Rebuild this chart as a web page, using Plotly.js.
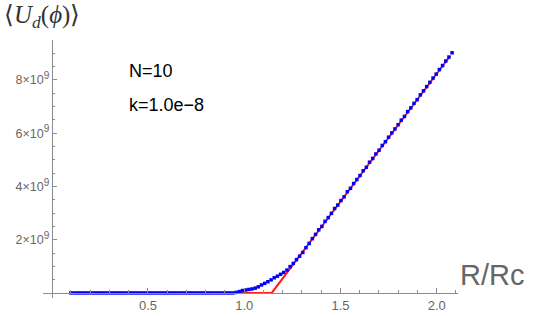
<!DOCTYPE html>
<html>
<head>
<meta charset="utf-8">
<script src="https://cdn.plot.ly/plotly-3.0.1.min.js"></script>
<style>
  html, body { margin: 0; padding: 0; background: #fff; }
  #plot { width: 540px; height: 316px; }
</style>
</head>
<body>
<div id="plot"></div>
<script>
// simulated <U_d(phi)> in units of 1e9, against R/Rc
const simR = [0.1000, 0.1165, 0.1330, 0.1495, 0.1660, 0.1825, 0.1990, 0.2155, 0.2320, 0.2485,
    0.2650, 0.2815, 0.2980, 0.3145, 0.3310, 0.3475, 0.3640, 0.3805, 0.3970, 0.4135,
    0.4300, 0.4465, 0.4630, 0.4795, 0.4960, 0.5125, 0.5290, 0.5455, 0.5620, 0.5785,
    0.5950, 0.6115, 0.6280, 0.6445, 0.6610, 0.6775, 0.6940, 0.7105, 0.7270, 0.7435,
    0.7600, 0.7765, 0.7930, 0.8095, 0.8260, 0.8425, 0.8590, 0.8755, 0.8920, 0.9085,
    0.9250, 0.9415, 0.9580, 0.9745, 0.9910, 1.0075, 1.0240, 1.0405, 1.0570, 1.0735,
    1.0900, 1.1065, 1.1230, 1.1395, 1.1560, 1.1725, 1.1890, 1.2055, 1.2220, 1.2385,
    1.2550, 1.2715, 1.2880, 1.3045, 1.3210, 1.3375, 1.3540, 1.3705, 1.3870, 1.4035,
    1.4200, 1.4365, 1.4530, 1.4695, 1.4860, 1.5025, 1.5190, 1.5355, 1.5520, 1.5685,
    1.5850, 1.6015, 1.6180, 1.6345, 1.6510, 1.6675, 1.6840, 1.7005, 1.7170, 1.7335,
    1.7500, 1.7665, 1.7830, 1.7995, 1.8160, 1.8325, 1.8490, 1.8655, 1.8820, 1.8985,
    1.9150, 1.9315, 1.9480, 1.9645, 1.9810, 1.9975, 2.0140, 2.0305, 2.0470, 2.0635,
    2.0800];
const simU = [0, 0, 0, 0, 0, 0, 0, 0, 0, 0,
    0, 0, 0, 0, 0, 0, 0, 0, 0, 0,
    0, 0, 0, 0, 0, 0, 0, 0, 0, 0,
    0, 0, 0, 0, 0, 0, 0, 0, 0, 0,
    0, 0, 0, 0, 0, 0, 0, 0, 0, 0,
    0, 0, 0.02, 0.05, 0.09, 0.11, 0.13, 0.15, 0.18, 0.23,
    0.30, 0.36, 0.42, 0.49, 0.57, 0.63, 0.70, 0.77, 0.86, 0.99,
    1.11, 1.25, 1.38, 1.52, 1.70, 1.86, 2.04, 2.20, 2.37, 2.50,
    2.69, 2.83, 2.99, 3.17, 3.30, 3.47, 3.61, 3.80, 3.93, 4.11,
    4.26, 4.41, 4.59, 4.72, 4.91, 5.05, 5.22, 5.36, 5.54, 5.68,
    5.85, 6.01, 6.16, 6.32, 6.49, 6.63, 6.81, 6.95, 7.12, 7.26,
    7.44, 7.59, 7.75, 7.91, 8.07, 8.22, 8.39, 8.54, 8.71, 8.86,
    9.02];

// analytic approximation (red)
const fitR = [0.100, 1.143, 2.070];
const fitU = [0, 0, 8.90];

const xTickVals = [0.5, 1.0, 1.5, 2.0];
const xTickText = ['0.5', '1.0', '1.5', '2.0'];
const xMinorVals = [0.1, 0.2, 0.3, 0.4, 0.6, 0.7, 0.8, 0.9, 1.1, 1.2, 1.3, 1.4, 1.6, 1.7, 1.8, 1.9, 2.1];
const yTickVals = [2, 4, 6, 8];
const yTickMant = ['2', '4', '6', '8'];
const yMinorVals = [0.5, 1, 1.5, 2.5, 3, 3.5, 4.5, 5, 5.5, 6.5, 7, 7.5, 8.5, 9, 9.5];

const axisGray = '#8c8c8c';
const labelGray = '#666666';

// mathematica style "8×10⁹" with a fairly big exponent
const yTickText = yTickMant.map(m => m + '×10<sup><span style="font-size:10px">9</span></sup>');

const traces = [
    {
        x: fitR, y: fitU,
        type: 'scatter', mode: 'lines',
        line: { color: '#ff1a1a', width: 2 },
        hoverinfo: 'skip'
    },
    {
        x: simR, y: simU,
        type: 'scatter', mode: 'markers',
        marker: { color: '#0000ff', symbol: 'square', size: 3.5, line: { width: 0 } },
        hoverinfo: 'skip'
    }
];

const xRange = [-0.0452, 2.1107];
const yRange = [-0.19, 9.5];

const layout = {
    width: 540, height: 316,
    margin: { l: 43, r: 82, t: 40, b: 18 },
    paper_bgcolor: '#fff', plot_bgcolor: '#fff',
    showlegend: false,
    font: { family: 'Liberation Sans, Arial, sans-serif', color: labelGray },
    xaxis: {
        range: xRange,
        anchor: 'free',
        position: (0 - yRange[0]) / (yRange[1] - yRange[0]),
        showgrid: false, zeroline: false,
        showline: true, linecolor: axisGray, linewidth: 1,
        tickmode: 'array', tickvals: xTickVals, ticktext: xTickText,
        ticks: 'inside', ticklen: 5, tickcolor: axisGray, tickwidth: 1,
        tickfont: { size: 13, color: labelGray },
        minor: { tickmode: 'array', tickvals: xMinorVals, ticks: 'inside', ticklen: 3, tickcolor: axisGray, tickwidth: 1 }
    },
    yaxis: {
        range: yRange,
        anchor: 'free',
        position: (0 - xRange[0]) / (xRange[1] - xRange[0]),
        showgrid: false, zeroline: false,
        showline: true, linecolor: axisGray, linewidth: 1,
        tickmode: 'array', tickvals: yTickVals, ticktext: yTickText,
        ticks: 'inside', ticklen: 4, tickcolor: axisGray, tickwidth: 1,
        tickfont: { size: 12.5, color: labelGray },
        minor: { tickmode: 'array', tickvals: yMinorVals, ticks: 'inside', ticklen: 2.5, tickcolor: axisGray, tickwidth: 1 }
    },
    annotations: [
        {
            text: '⟨<i>U</i><sub><i>d</i></sub>(<i>ϕ</i>)⟩',
            xref: 'paper', yref: 'paper', x: -0.099, y: 1.16,
            xanchor: 'left', yanchor: 'top', showarrow: false,
            font: { family: 'Liberation Serif, Times New Roman, serif', size: 25, color: '#333' }
        },
        {
            text: 'R/Rc',
            xref: 'paper', yref: 'paper', x: 1.0, y: 0.09,
            xanchor: 'left', yanchor: 'middle', showarrow: false,
            font: { size: 29, color: labelGray }
        },
        {
            text: 'N=10',
            xref: 'x', yref: 'y', x: 0.391, y: 8.35,
            xanchor: 'left', yanchor: 'middle', showarrow: false,
            font: { size: 18, color: '#000' }
        },
        {
            text: 'k=1.0e−8',
            xref: 'x', yref: 'y', x: 0.391, y: 7.07,
            xanchor: 'left', yanchor: 'middle', showarrow: false,
            font: { size: 18, color: '#000' }
        }
    ]
};

Plotly.newPlot('plot', traces, layout, { staticPlot: true, displayModeBar: false });
</script>
</body>
</html>
